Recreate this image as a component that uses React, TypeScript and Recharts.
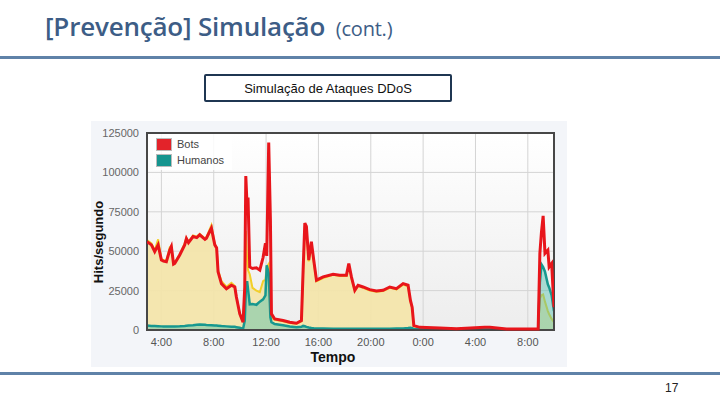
import { ComposedChart, Area, Line, XAxis, YAxis, CartesianGrid, ReferenceArea } from 'recharts';

// horas desde 0:00 do primeiro dia (24+ = dia seguinte)
const horas = [
  2.9, 3.24, 3.49, 3.75, 4.0, 4.16, 4.38, 4.64, 4.76, 4.93, 5.02, 5.4, 5.78, 5.91, 6.07, 6.42, 6.7, 6.93, 7.33, 7.44, 7.82,
  8.08, 8.22, 8.33, 8.59, 8.97, 9.35, 9.61, 9.73, 9.99, 10.24, 10.37, 10.45, 10.55, 10.62, 10.75, 10.96,
  11.26, 11.52, 11.77, 11.95, 12.05, 12.2, 12.33, 12.41, 12.66, 13.3, 13.81, 14.32, 14.7, 14.83,
  14.96, 15.08, 15.26, 15.46, 15.64, 15.85, 16.36, 17.12, 17.63, 18.14, 18.32, 18.52, 18.78, 19.03,
  19.41, 19.92, 20.43, 20.94, 21.45, 21.96, 22.47, 22.85, 23.03, 23.16, 23.29, 23.75, 25.27, 26.55,
  28.7, 29.1, 30.37, 32.79, 32.92, 33.04, 33.17, 33.31, 33.53, 33.63, 33.82, 34.0,
];

const bots = [
  56000, 54000, 49700, 54000, 44400, 43700, 43300, 50800, 53000, 41800, 42200, 47600, 54000, 58000, 55400, 59300, 58600, 60400, 57500, 58200, 64600,
  54000, 52100, 36900, 29400, 26200, 28400, 27300, 20900, 10200, 4900, 27300, 97700, 78500, 84000, 40000, 39000,
  39500, 38000, 46000, 55000, 47000, 119000, 70000, 10200, 7000, 6000, 4900, 4300, 6000, 38000,
  67800, 65700, 44400, 56100, 44400, 31600, 33700, 35400, 34800, 34800, 42200, 33700, 25200, 28400,
  27300, 25600, 24700, 25200, 27300, 26200, 29400, 28400, 18800, 14500, 2800, 1700, 1300, 850,
  1700, 1700, 640, 640, 48600, 62000, 72400, 48600, 50700, 40000, 42200, 14500,
];

const outros = [
  57000, 55000, 50500, 57500, 45000, 44500, 44000, 52500, 53500, 42500, 43000, 48000, 55000, 58500, 56000, 60000, 59200, 61000, 58000, 59000, 66500,
  54500, 52500, 38000, 31000, 27500, 30000, 28000, 21500, 10500, 5200, 25000, 63000, 45000, 38000, 35400, 26700,
  25000, 24000, 31000, 32000, 40000, 42000, 10000, 8000, 6500, 5500, 4500, 4000, 5500, 37000,
  66000, 64000, 43500, 55000, 43500, 31000, 33000, 35000, 34200, 34200, 41500, 33000, 24800, 28000,
  26800, 25000, 24200, 24700, 26800, 25700, 28800, 27800, 18300, 14000, 2400, 1400, 1100, 700,
  1300, 1300, 500, 500, 20000, 22000, 22600, 18000, 12000, 10000, 7000, 5000,
];

const humanos = [
  2800, 2600, 2500, 2400, 2300, 2200, 2200, 2200, 2300, 2300, 2300, 2400, 2600, 2700, 2800, 3000, 3300, 3500, 3300, 3200, 3000,
  2900, 2800, 2700, 2500, 2300, 2100, 2000, 1800, 1400, 700, 6000, 25000, 31000, 26000, 16300, 16500,
  16000, 18000, 19500, 22000, 41000, 36000, 8000, 5000, 3800, 3000, 2200, 1800, 2000, 2600,
  2400, 2000, 1600, 1300, 1100, 1000, 900, 800, 800, 800, 800, 800, 800, 800,
  800, 800, 800, 800, 800, 900, 1000, 1200, 1400, 1200, 600, 500, 500, 400,
  500, 500, 400, 400, 30000, 41700, 40000, 37000, 29000, 27000, 22000, 12000,
];

const yTicks = [0, 25000, 50000, 75000, 100000, 125000];
const xTicks = [4, 8, 12, 16, 20, 24, 28, 32];
const xLabels = ['4:00', '8:00', '12:00', '16:00', '20:00', '0:00', '4:00', '8:00'];

const legendItems = [
  { label: 'Bots', color: '#e3232a' },
  { label: 'Humanos', color: '#16958f' },
];

const X_MIN = 2.9;
const X_MAX = 34;
const Y_MAX = 125000;

const data = horas.map((h, i) => ({
  h,
  bots: bots[i],
  outros: outros[i],
  humanos: humanos[i],
}));

const arial = '"Liberation Sans", Arial, sans-serif';

export default function App() {
  return (
    <div style={{ position: 'absolute', left: 0, top: 0, width: 720, height: 405, background: '#fff', overflow: 'hidden' }}>
      <div
        style={{
          position: 'absolute', left: 45, top: 8, color: '#3d5d86', fontFamily: '"Open Sans", sans-serif',
          fontWeight: 600, fontSize: 26, letterSpacing: -0.2, whiteSpace: 'nowrap',
        }}
      >
        [Prevenção] Simulação <span style={{ fontSize: 20, fontWeight: 500, marginLeft: 4 }}>(cont.)</span>
      </div>
      <div style={{ position: 'absolute', left: 0, top: 56, width: 720, height: 3, background: '#5f82a8' }} />

      <div
        style={{
          position: 'absolute', left: 204, top: 74, width: 244, height: 24, border: '2px solid #1f3652',
          borderRadius: 2, fontFamily: arial, fontSize: 13, color: '#111', textAlign: 'center', lineHeight: '25px',
        }}
      >
        Simulação de Ataques DDoS
      </div>

      <div style={{ position: 'absolute', left: 91, top: 121, width: 476, height: 246, background: '#f3f5f9' }}>
        <ComposedChart width={476} height={246} data={data} margin={{ top: 12, right: 13, left: 0, bottom: 0 }}>
          <defs>
            <linearGradient id="plotBg" x1="0" y1="0" x2="0" y2="1">
              <stop offset="0%" stopColor="#ffffff" />
              <stop offset="100%" stopColor="#ededed" />
            </linearGradient>
          </defs>
          <CartesianGrid stroke="#d4d4d4" fill="url(#plotBg)" fillOpacity={1} />
          <XAxis
            type="number"
            dataKey="h"
            domain={[X_MIN, X_MAX]}
            ticks={xTicks}
            tickFormatter={(v: number) => xLabels[xTicks.indexOf(v)]}
            allowDataOverflow
            height={37}
            tickLine={false}
            axisLine={false}
            tick={{ fontSize: 11, fill: '#555', fontFamily: arial }}
          />
          <YAxis
            domain={[0, Y_MAX]}
            ticks={yTicks}
            width={56}
            tickLine={false}
            axisLine={false}
            tick={{ fontSize: 11, fill: '#666', fontFamily: arial }}
          />
          <Area type="linear" dataKey="outros" stroke="#f2cf2a" strokeWidth={2} fill="#f3e5ab" fillOpacity={0.95} dot={false} activeDot={false} isAnimationActive={false} />
          <Area type="linear" dataKey="humanos" stroke="#17988f" strokeWidth={2.5} fill="#4fbfae" fillOpacity={0.45} dot={false} activeDot={false} isAnimationActive={false} />
          <Line type="linear" dataKey="bots" stroke="#e8151b" strokeWidth={3} dot={false} activeDot={false} isAnimationActive={false} />
          <ReferenceArea x1={X_MIN} x2={X_MAX} y1={0} y2={Y_MAX} fill="none" stroke="#474747" strokeWidth={2} />
        </ComposedChart>

        <div
          style={{
            position: 'absolute', left: 62, top: 13, background: 'rgba(255,255,255,0.85)', padding: '2px 8px 2px 3px',
            fontFamily: arial, fontSize: 11, color: '#444',
          }}
        >
          {legendItems.map((it) => (
            <div key={it.label} style={{ display: 'flex', alignItems: 'center', height: 16 }}>
              <span style={{ display: 'inline-block', width: 14, height: 11, background: it.color, border: '1px solid #bbb', marginRight: 5 }} />
              {it.label}
            </div>
          ))}
        </div>

        <div
          style={{
            position: 'absolute', left: 7, top: 121, transform: 'translate(-50%, -50%) rotate(-90deg)',
            fontFamily: arial, fontWeight: 700, fontSize: 13, color: '#111', whiteSpace: 'nowrap',
          }}
        >
          Hits/segundo
        </div>
        <div
          style={{
            position: 'absolute', left: 242, top: 236, transform: 'translate(-50%, -50%)',
            fontFamily: arial, fontWeight: 700, fontSize: 14, color: '#111',
          }}
        >
          Tempo
        </div>
      </div>

      <div style={{ position: 'absolute', left: 0, top: 372, width: 720, height: 3, background: '#5f82a8' }} />
      <div style={{ position: 'absolute', left: 665, top: 381, fontFamily: arial, fontSize: 12, color: '#222' }}>17</div>
    </div>
  );
}
